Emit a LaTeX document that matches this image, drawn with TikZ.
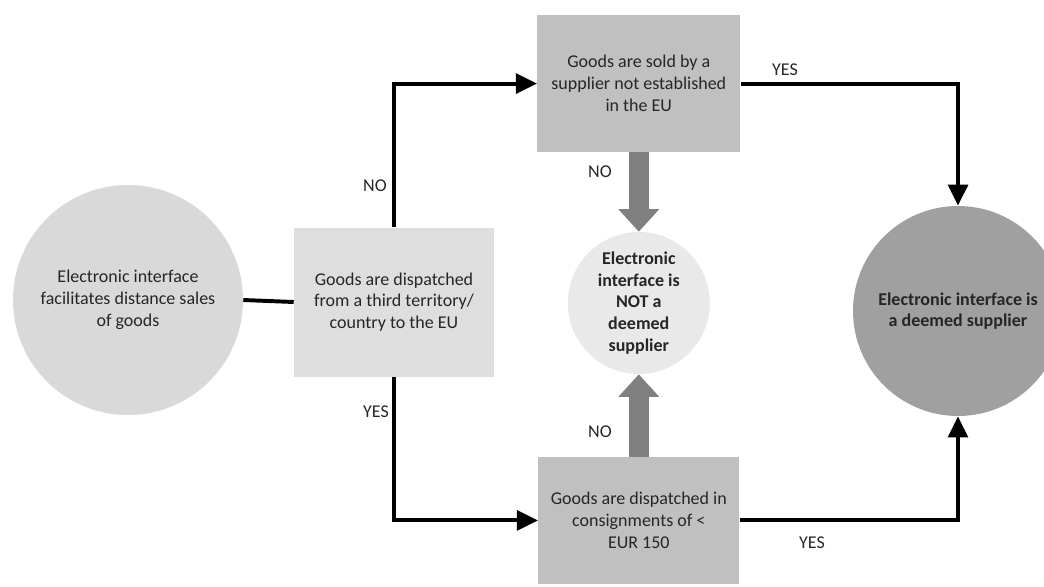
\documentclass[tikz,border=0pt]{standalone}
\usepackage{fontspec}
\setmainfont{Carlito}
\usepackage{tikz}
\usetikzlibrary{shapes,arrows.meta,positioning}
\definecolor{startgray}{RGB}{217,217,217}
\definecolor{boxlight}{RGB}{222,222,222}
\definecolor{boxgray}{RGB}{192,192,192}
\definecolor{notgray}{RGB}{233,233,233}
\definecolor{deemgray}{RGB}{160,160,160}
\definecolor{blockgray}{RGB}{128,128,128}
\definecolor{txtgray}{RGB}{38,38,38}

\begin{document}
\begin{tikzpicture}[
    font=\fontsize{12.8}{15.5}\selectfont, text=txtgray,
    bubble/.style={circle, align=center, inner sep=0pt},
    qbox/.style={rectangle, fill=boxgray, align=center, inner sep=0pt},
    link/.style={line width=2.8pt, black},
    arr/.style={link, -{Triangle[length=15pt,width=14pt]}},
    block/.style={line width=14pt, blockgray, -{Triangle[length=16pt,width=28pt]}},
    answer/.style={inner sep=1pt}
]
\useasboundingbox (0,0) rectangle (26.1,14.65);

% Start
\node[bubble, fill=startgray, minimum size=5.75cm] (start) at (3.2,7.15)
    {Electronic interface\\facilitates distance sales\\of goods};

% Questions
\node[qbox, fill=boxlight, minimum width=5cm, minimum height=3.725cm] (third) at (9.85,7.1)
    {Goods are dispatched\\from a third territory/\\country to the EU};
\node[qbox, minimum width=5.075cm, minimum height=3.425cm] (seller) at (15.97,12.56)
    {Goods are sold by a\\supplier not established\\in the EU};
\node[qbox, minimum width=5.025cm, minimum height=3.175cm] (consign) at (15.97,1.64)
    {Goods are dispatched in\\consignments of <\\EUR 150};

% Outcomes
\node[bubble, fill=notgray, minimum size=3.55cm, font=\fontsize{12.8}{15.5}\selectfont\bfseries] (notdeemed) at (15.97,7.075)
    {Electronic\\interface is\\NOT a\\deemed\\supplier};
\node[bubble, fill=deemgray, minimum size=5.25cm, font=\fontsize{12.8}{15.5}\selectfont\bfseries] (deemed) at (23.95,6.875)
    {Electronic interface is\\a deemed supplier};

% Connectors
\draw[link] (start.east) -- (third.west);
\draw[arr] (third.north) |- (seller.west);
\draw[arr] (third.south) |- (consign.west);
\draw[arr] (seller.east) -| (deemed.north);
\draw[arr] (consign.east) -| (deemed.south);
\draw[block] (seller.south) -- (notdeemed.north);
\draw[block] (consign.north) -- (notdeemed.south);

% Answers
\node[answer] (no1) at (9.375,10.0) {NO};
\node[answer] (yes1) at (9.4,4.35) {YES};
\node[answer] (yes2) at (19.625,12.9) {YES};
\node[answer] (yes3) at (20.3,1.075) {YES};
\node[answer] (no2) at (15.0,10.35) {NO};
\node[answer] (no3) at (15.0,3.85) {NO};
\end{tikzpicture}
\end{document}
